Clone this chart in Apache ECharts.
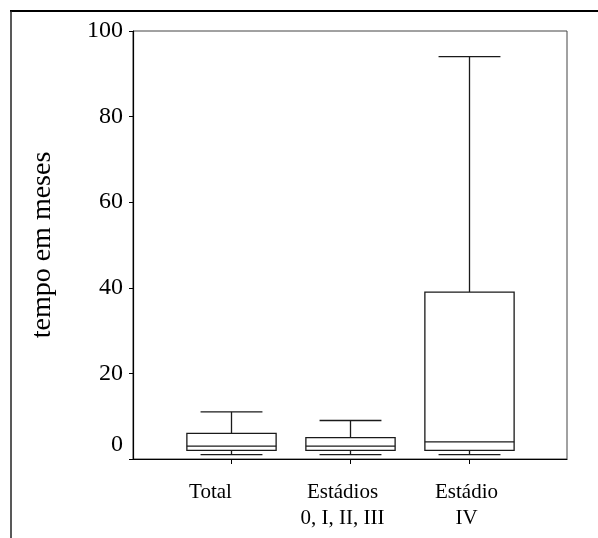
<!DOCTYPE html>
<html>
<head>
<meta charset="utf-8">
<script src="https://cdn.jsdelivr.net/npm/echarts/dist/echarts.min.js"></script>
<style>
  html, body { margin: 0; padding: 0; background: #fff; }
  #chart { width: 598px; height: 538px; }
</style>
</head>
<body>
<div id="chart"></div>
<script>
// groups on the x axis
const categories = ['Total', 'Estádios\n0, I, II, III', 'Estádio\nIV']
// box plot statistics (months)
const lowVals = [1, 1, 1]
const q1Vals = [2, 2, 2]
const medVals = [3, 3, 4]
const q3Vals = [6, 5, 39]
const highVals = [11, 9, 94]
const yTicks = { min: 0, max: 100, step: 20 }

const FONT = 'Liberation Serif'
const LINE = '#1a1a1a'

const boxData = categories.map((c, i) => [i, lowVals[i], q1Vals[i], medVals[i], q3Vals[i], highVals[i]])

// labels in the original sit a little left of their ticks
const catLabelStyle = pad => ({ color: '#000', fontFamily: FONT, fontSize: 21, lineHeight: 26, padding: [0, pad, 0, 0] })

const chart = echarts.init(document.getElementById('chart'))

function renderBox(params, api) {
  const x = api.value(0)
  const lo = api.coord([x, api.value(1)])
  const q1 = api.coord([x, api.value(2)])
  const md = api.coord([x, api.value(3)])
  const q3 = api.coord([x, api.value(4)])
  const hi = api.coord([x, api.value(5)])
  const band = api.size([1, 0])[0]
  const bw = band * 0.75
  const cw = band * 0.52
  const cx = lo[0]
  const style = { stroke: LINE, lineWidth: 1.3, fill: null }
  const line = (x1, y1, x2, y2) => ({ type: 'line', shape: { x1, y1, x2, y2 }, style })
  return {
    type: 'group',
    children: [
      line(cx, q3[1], cx, hi[1]),
      line(cx - cw / 2, hi[1], cx + cw / 2, hi[1]),
      line(cx, q1[1], cx, lo[1]),
      line(cx - cw / 2, lo[1], cx + cw / 2, lo[1]),
      { type: 'rect', shape: { x: cx - bw / 2, y: q3[1], width: bw, height: q1[1] - q3[1] }, style: { stroke: LINE, lineWidth: 1.3, fill: '#fff' } },
      line(cx - bw / 2, md[1], cx + bw / 2, md[1])
    ]
  }
}

chart.setOption({
  backgroundColor: '#fff',
  animation: false,
  graphic: [
    { type: 'line', shape: { x1: 10, y1: 11, x2: 598, y2: 11 }, style: { stroke: '#000', lineWidth: 2 } },
    { type: 'line', shape: { x1: 11, y1: 11, x2: 11, y2: 538 }, style: { stroke: '#222', lineWidth: 1.5 } }
  ],
  grid: [
    { left: 133, right: 31, top: 31, bottom: 79, show: true, borderColor: '#444', borderWidth: 1 },
    { left: 172, right: 69, top: 31, bottom: 79 }
  ],
  xAxis: [
    {
      gridIndex: 0, type: 'value', min: 0, max: 1,
      axisLine: { show: true, onZero: false, lineStyle: { color: '#000', width: 1.2 } },
      axisTick: { show: false }, axisLabel: { show: false }, splitLine: { show: false }
    },
    {
      gridIndex: 1, type: 'category', data: categories,
      axisLine: { show: false },
      axisTick: { show: true, alignWithLabel: true, interval: 0, length: 5, lineStyle: { color: '#000' } },
      axisLabel: {
        interval: 0, hideOverlap: false,
        color: '#000', fontFamily: FONT, fontSize: 21, lineHeight: 26, margin: 20,
        formatter: (v, i) => v.split('\n').map(s => `{c${i}|${s}}`).join('\n'),
        rich: { c0: catLabelStyle(42), c1: catLabelStyle(16), c2: catLabelStyle(6) }
      }
    }
  ],
  yAxis: [
    {
      gridIndex: 0, type: 'value', min: yTicks.min, max: yTicks.max, interval: yTicks.step,
      name: 'tempo em meses', nameLocation: 'middle', nameGap: 76,
      nameTextStyle: { color: '#000', fontFamily: FONT, fontSize: 28 },
      axisLine: { show: true, lineStyle: { color: '#000', width: 1.2 } },
      axisTick: { show: true, length: 4, lineStyle: { color: '#000' } },
      axisLabel: {
        color: '#000', fontFamily: FONT, fontSize: 24, margin: 10,
        formatter: v => v === 0 ? '{z|0}' : String(v),
        rich: { z: { color: '#000', fontFamily: FONT, fontSize: 24, padding: [0, 0, 28, 0] } }
      },
      splitLine: { show: false }
    },
    {
      gridIndex: 1, type: 'value', min: yTicks.min, max: yTicks.max,
      show: false
    }
  ],
  series: [
    {
      type: 'custom',
      xAxisIndex: 1, yAxisIndex: 1,
      renderItem: renderBox,
      encode: { x: 0, y: [1, 2, 3, 4, 5] },
      data: boxData
    }
  ]
})
</script>
</body>
</html>
